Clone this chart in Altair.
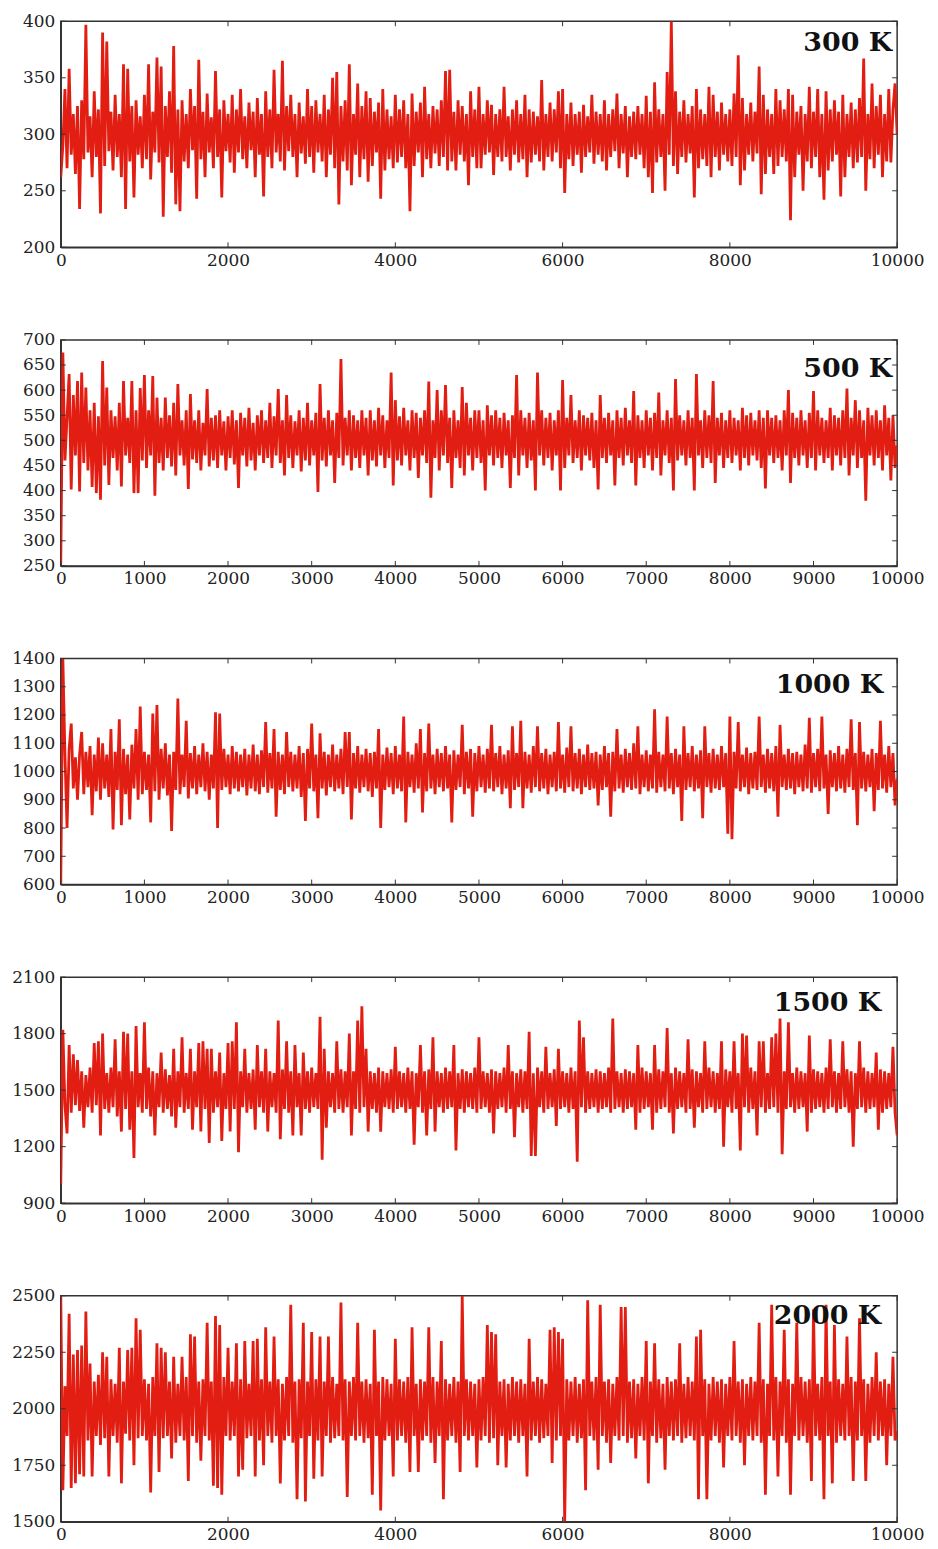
import altair as alt
import pandas as pd

STEP = 25  # sampling interval of the traces (simulation steps)

# temperature traces (401 points each, every 25 steps)
t300 = [
    262, 290, 340, 270, 358, 282, 318, 265, 325, 234, 330, 278, 397, 284, 316, 262, 338, 280, 322, 230,
    390, 272, 382, 285, 320, 268, 335, 280, 318, 262, 362, 234, 358, 276, 325, 244, 330, 282, 316, 270,
    335, 278, 362, 260, 320, 284, 368, 275, 360, 227, 325, 280, 338, 266, 378, 238, 322, 232, 330, 276,
    318, 270, 340, 286, 325, 243, 366, 278, 320, 262, 336, 284, 315, 270, 356, 280, 322, 244, 330, 285,
    318, 275, 335, 266, 322, 284, 340, 278, 316, 270, 328, 286, 320, 262, 332, 282, 318, 245, 338, 280,
    322, 270, 357, 284, 318, 276, 365, 268, 325, 285, 335, 280, 318, 262, 328, 283, 316, 274, 340, 280,
    325, 266, 330, 284, 318, 276, 335, 262, 322, 282, 350, 270, 355, 238, 325, 276, 330, 268, 362, 255,
    318, 282, 345, 262, 325, 278, 338, 258, 332, 272, 320, 284, 328, 243, 340, 268, 322, 278, 316, 270,
    335, 275, 322, 280, 330, 270, 318, 232, 336, 272, 320, 284, 328, 262, 342, 278, 318, 270, 325, 283,
    322, 272, 330, 280, 356, 268, 357, 276, 320, 268, 330, 282, 325, 276, 318, 255, 338, 280, 322, 270,
    342, 270, 318, 282, 330, 284, 326, 264, 318, 280, 322, 276, 342, 280, 316, 268, 322, 282, 330, 275,
    318, 278, 335, 262, 322, 275, 320, 282, 316, 276, 348, 268, 318, 280, 328, 276, 322, 284, 338, 270,
    340, 248, 318, 278, 328, 272, 318, 282, 320, 266, 326, 280, 316, 284, 335, 274, 320, 282, 318, 276,
    330, 268, 318, 280, 322, 285, 336, 270, 318, 283, 325, 262, 316, 280, 320, 278, 325, 282, 318, 270,
    334, 262, 320, 248, 346, 275, 322, 280, 318, 250, 355, 282, 400, 272, 338, 265, 320, 280, 330, 275,
    318, 283, 325, 244, 340, 270, 322, 278, 318, 272, 342, 262, 335, 280, 320, 268, 328, 282, 318, 276,
    322, 272, 336, 280, 370, 255, 332, 268, 318, 282, 328, 276, 320, 283, 360, 247, 335, 265, 322, 280,
    318, 265, 340, 272, 330, 280, 322, 276, 340, 224, 335, 262, 320, 282, 325, 250, 318, 276, 342, 270,
    320, 280, 340, 262, 318, 242, 338, 268, 322, 276, 330, 282, 320, 245, 335, 262, 318, 280, 328, 270,
    322, 275, 332, 280, 367, 250, 318, 278, 345, 270, 325, 282, 335, 262, 318, 276, 340, 275, 322, 345,
    300,
]
t500 = [
    255, 675, 460, 545, 632, 402, 590, 470, 618, 398, 635, 455, 605, 440, 560, 407, 575, 395, 548, 382,
    658, 450, 605, 411, 560, 465, 548, 440, 575, 408, 618, 470, 545, 455, 618, 395, 560, 395, 604, 460,
    630, 445, 560, 470, 628, 390, 585, 455, 545, 440, 585, 465, 550, 448, 575, 430, 612, 470, 540, 450,
    560, 403, 592, 462, 540, 455, 560, 440, 535, 470, 602, 448, 545, 460, 550, 445, 560, 470, 538, 440,
    548, 465, 560, 452, 540, 405, 555, 470, 545, 448, 565, 460, 535, 440, 550, 470, 560, 455, 540, 465,
    575, 445, 548, 470, 602, 455, 540, 430, 590, 465, 550, 445, 538, 470, 560, 438, 545, 460, 575, 450,
    540, 470, 555, 397, 612, 460, 545, 448, 560, 470, 540, 415, 555, 465, 662, 450, 545, 470, 560, 440,
    550, 465, 540, 445, 560, 470, 545, 430, 560, 460, 540, 448, 565, 470, 550, 445, 540, 465, 635, 410,
    580, 460, 548, 450, 565, 470, 540, 440, 560, 465, 555, 425, 545, 470, 560, 455, 617, 386, 540, 465,
    600, 440, 560, 470, 610, 455, 545, 405, 560, 465, 540, 445, 606, 430, 575, 470, 545, 440, 560, 465,
    560, 455, 540, 400, 570, 470, 550, 450, 560, 465, 545, 445, 555, 470, 540, 405, 550, 465, 630, 430,
    560, 470, 545, 445, 555, 460, 540, 400, 635, 470, 560, 450, 545, 465, 555, 440, 540, 470, 560, 400,
    620, 445, 545, 470, 590, 455, 540, 465, 560, 440, 550, 470, 545, 460, 555, 445, 540, 402, 590, 465,
    545, 455, 555, 470, 540, 410, 560, 465, 545, 450, 565, 470, 540, 455, 598, 410, 550, 465, 540, 445,
    560, 470, 545, 440, 555, 465, 595, 430, 540, 470, 560, 455, 545, 400, 622, 460, 550, 470, 540, 450,
    560, 465, 545, 400, 632, 470, 540, 445, 560, 465, 550, 455, 618, 415, 545, 470, 555, 445, 540, 465,
    560, 455, 545, 470, 540, 440, 565, 465, 550, 450, 555, 470, 540, 460, 560, 445, 545, 404, 560, 470,
    545, 455, 550, 465, 540, 440, 560, 470, 600, 415, 555, 465, 545, 450, 560, 470, 540, 445, 555, 465,
    598, 440, 560, 470, 545, 455, 540, 465, 565, 440, 550, 470, 545, 450, 560, 465, 603, 430, 545, 470,
    580, 445, 560, 465, 540, 380, 565, 470, 550, 450, 560, 465, 540, 440, 570, 470, 545, 420, 550, 445,
    490,
]
t1000 = [
    600, 1400, 1060, 800, 1080, 1170, 940, 1050, 900, 1060, 1140, 920, 1070, 945, 1090, 845, 1060, 930, 1120, 900,
    1100, 940, 1060, 910, 1150, 795, 1070, 935, 1185, 810, 1080, 920, 1060, 830, 1095, 940, 1150, 900, 1230, 920,
    1070, 935, 1060, 820, 1205, 930, 1235, 900, 1080, 940, 1100, 915, 1060, 790, 1070, 935, 1258, 920, 1060, 945,
    1180, 905, 1065, 940, 1090, 920, 1060, 945, 1100, 930, 1070, 900, 1060, 940, 1210, 800, 1205, 935, 1080, 945,
    1060, 920, 1090, 940, 1070, 930, 1060, 945, 1080, 915, 1060, 940, 1095, 930, 1060, 920, 1075, 945, 1175, 925,
    1065, 940, 1150, 840, 1070, 935, 1060, 920, 1140, 945, 1070, 930, 1060, 940, 1090, 910, 1065, 825, 1080, 940,
    1170, 930, 1060, 835, 1135, 940, 1070, 915, 1060, 945, 1095, 930, 1060, 940, 1080, 920, 1140, 945, 1140, 830,
    1065, 940, 1090, 925, 1060, 945, 1080, 930, 1065, 910, 1070, 940, 1150, 800, 1060, 935, 1085, 945, 1065, 920,
    1090, 940, 1060, 930, 1195, 820, 1070, 945, 1060, 925, 1100, 940, 1150, 855, 1065, 930, 1170, 940, 1060, 920,
    1080, 945, 1065, 930, 1090, 940, 1060, 820, 1075, 935, 1060, 945, 1165, 920, 1070, 940, 1080, 840, 1065, 930,
    1090, 945, 1060, 925, 1080, 940, 1165, 930, 1065, 945, 1090, 920, 1060, 940, 1075, 870, 1160, 935, 1065, 945,
    1180, 870, 1070, 940, 1060, 925, 1090, 945, 1160, 930, 1065, 940, 1080, 920, 1060, 945, 1070, 930, 1175, 940,
    1060, 925, 1085, 945, 1160, 930, 1065, 940, 1080, 920, 1060, 945, 1095, 935, 1065, 940, 1070, 880, 1060, 935,
    1090, 945, 1065, 840, 1070, 930, 1150, 940, 1060, 925, 1080, 945, 1065, 935, 1100, 940, 1160, 920, 1060, 945,
    1075, 930, 1060, 940, 1220, 925, 1070, 945, 1060, 930, 1195, 940, 1065, 920, 1080, 945, 1060, 825, 1160, 935,
    1065, 945, 1090, 930, 1060, 940, 1075, 835, 1160, 945, 1065, 925, 1080, 940, 1060, 935, 1090, 945, 1065, 780,
    1195, 760, 1070, 940, 1175, 930, 1060, 945, 1085, 920, 1065, 940, 1070, 935, 1195, 945, 1060, 925, 1080, 940,
    1065, 930, 1090, 840, 1165, 945, 1060, 935, 1080, 940, 1065, 920, 1070, 945, 1060, 930, 1095, 940, 1190, 925,
    1065, 945, 1080, 930, 1195, 940, 1060, 850, 1075, 945, 1065, 930, 1090, 940, 1060, 925, 1080, 945, 1185, 935,
    1065, 810, 1175, 940, 1070, 930, 1060, 945, 1080, 860, 1065, 935, 1180, 940, 1060, 925, 1090, 945, 1065, 880,
    975,
]
t1500 = [
    1000, 1820, 1420, 1270, 1740, 1380, 1690, 1420, 1660, 1390, 1600, 1300, 1580, 1410, 1620, 1380, 1750, 1420, 1760, 1260,
    1800, 1400, 1590, 1380, 1620, 1410, 1770, 1360, 1600, 1280, 1810, 1400, 1800, 1290, 1600, 1140, 1840, 1410, 1590, 1380,
    1860, 1400, 1620, 1360, 1600, 1260, 1590, 1410, 1700, 1380, 1610, 1400, 1580, 1360, 1720, 1300, 1600, 1410, 1780, 1380,
    1590, 1400, 1720, 1290, 1600, 1410, 1750, 1280, 1760, 1400, 1720, 1220, 1720, 1380, 1600, 1410, 1700, 1230, 1590, 1400,
    1750, 1280, 1760, 1400, 1860, 1170, 1600, 1410, 1720, 1380, 1590, 1400, 1610, 1290, 1740, 1410, 1600, 1380, 1720, 1280,
    1600, 1410, 1590, 1380, 1870, 1240, 1610, 1400, 1760, 1380, 1600, 1260, 1740, 1410, 1590, 1260, 1700, 1400, 1600, 1380,
    1620, 1410, 1590, 1400, 1890, 1130, 1720, 1300, 1600, 1410, 1590, 1380, 1760, 1400, 1610, 1380, 1600, 1410, 1800, 1260,
    1600, 1400, 1870, 1380, 1945, 1410, 1720, 1280, 1600, 1400, 1590, 1380, 1620, 1280, 1600, 1410, 1590, 1400, 1610, 1380,
    1730, 1400, 1600, 1410, 1590, 1380, 1620, 1400, 1600, 1210, 1590, 1410, 1740, 1380, 1600, 1260, 1610, 1400, 1780, 1280,
    1600, 1410, 1590, 1380, 1620, 1400, 1600, 1410, 1740, 1180, 1590, 1400, 1610, 1380, 1600, 1410, 1590, 1400, 1620, 1380,
    1780, 1400, 1600, 1410, 1590, 1380, 1610, 1270, 1600, 1400, 1590, 1410, 1620, 1380, 1740, 1400, 1600, 1250, 1590, 1410,
    1610, 1380, 1600, 1400, 1810, 1150, 1590, 1150, 1620, 1410, 1600, 1380, 1730, 1400, 1590, 1410, 1610, 1310, 1720, 1400,
    1600, 1410, 1590, 1380, 1620, 1400, 1600, 1120, 1870, 1410, 1780, 1380, 1600, 1400, 1590, 1410, 1610, 1380, 1600, 1400,
    1590, 1410, 1620, 1380, 1880, 1400, 1600, 1410, 1590, 1380, 1610, 1400, 1600, 1410, 1590, 1290, 1740, 1380, 1620, 1400,
    1600, 1410, 1590, 1290, 1740, 1380, 1610, 1400, 1600, 1410, 1830, 1380, 1590, 1270, 1620, 1400, 1600, 1410, 1590, 1380,
    1770, 1400, 1610, 1300, 1600, 1410, 1590, 1380, 1760, 1400, 1620, 1410, 1600, 1380, 1590, 1400, 1760, 1200, 1610, 1410,
    1600, 1380, 1760, 1400, 1590, 1180, 1800, 1410, 1790, 1380, 1620, 1400, 1600, 1260, 1760, 1410, 1760, 1380, 1590, 1400,
    1780, 1410, 1800, 1380, 1880, 1160, 1600, 1400, 1860, 1410, 1590, 1380, 1620, 1400, 1600, 1410, 1590, 1280, 1790, 1380,
    1610, 1400, 1600, 1410, 1590, 1380, 1620, 1400, 1770, 1410, 1600, 1380, 1590, 1400, 1760, 1410, 1610, 1380, 1600, 1200,
    1590, 1400, 1760, 1410, 1620, 1380, 1600, 1400, 1590, 1410, 1700, 1290, 1610, 1380, 1600, 1400, 1590, 1410, 1730, 1380,
    1260,
]
t2000 = [
    2500, 1640, 2100, 1880, 2420, 1650, 2240, 1670, 2260, 1710, 2280, 1700, 2430, 1860, 2200, 1700, 2120, 1880, 2150, 1840,
    2250, 1870, 2230, 1700, 2130, 1880, 2110, 1850, 2270, 1670, 2120, 1890, 2260, 1860, 2270, 1750, 2400, 1870, 2350, 1880,
    2130, 1860, 2110, 1630, 2140, 1880, 2290, 1720, 2270, 1870, 2250, 1880, 2120, 1780, 2230, 1850, 2110, 1880, 2230, 1860,
    2140, 1680, 2330, 1880, 2320, 1850, 2120, 1770, 2130, 1880, 2380, 1860, 2120, 1660, 2410, 1650, 2370, 1620, 2140, 1880,
    2270, 1860, 2120, 1880, 2290, 1700, 2130, 1730, 2300, 1870, 2110, 1880, 2300, 1700, 2310, 1860, 2130, 1750, 2360, 1880,
    2120, 1850, 2320, 1880, 2130, 1670, 2110, 1860, 2140, 1880, 2460, 1850, 2120, 1600, 2130, 1870, 2380, 1590, 2120, 1880,
    2340, 1690, 2130, 1860, 2320, 1700, 2120, 1880, 2320, 1850, 2140, 1870, 2110, 1880, 2470, 1860, 2130, 1610, 2120, 1880,
    2140, 1860, 2380, 1880, 2120, 1850, 2130, 1870, 2110, 1620, 2350, 1880, 2120, 1550, 2140, 1860, 2130, 1880, 2110, 1700,
    2310, 1860, 2130, 1880, 2120, 1850, 2140, 1720, 2360, 1880, 2110, 1720, 2130, 1860, 2120, 1880, 2360, 1850, 2140, 1760,
    2120, 1880, 2300, 1600, 2130, 1860, 2110, 1880, 2140, 1850, 2120, 1720, 2500, 1880, 2130, 1860, 2120, 1880, 2110, 1740,
    2130, 1860, 2140, 1880, 2370, 1850, 2340, 1870, 2330, 1750, 2120, 1880, 2130, 1740, 2110, 1860, 2140, 1880, 2120, 1850,
    2130, 1880, 2110, 1700, 2310, 1860, 2120, 1880, 2140, 1850, 2130, 1870, 2110, 1880, 2350, 1760, 2360, 1860, 2340, 1880,
    2310, 1500, 2130, 1860, 2120, 1880, 2140, 1850, 2110, 1870, 2130, 1640, 2480, 1880, 2120, 1860, 2140, 1730, 2460, 1880,
    2120, 1850, 2130, 1760, 2110, 1880, 2140, 1860, 2450, 1880, 2450, 1850, 2120, 1870, 2130, 1780, 2110, 1880, 2140, 1860,
    2300, 1670, 2120, 1880, 2290, 1850, 2130, 1870, 2110, 1730, 2140, 1880, 2120, 1860, 2130, 1880, 2290, 1850, 2110, 1870,
    2140, 1880, 2120, 1860, 2320, 1600, 2350, 1880, 2130, 1600, 2110, 1860, 2140, 1880, 2120, 1850, 2130, 1740, 2110, 1880,
    2140, 1860, 2300, 1880, 2120, 1850, 2130, 1750, 2110, 1880, 2140, 1860, 2120, 1880, 2380, 1850, 2130, 1620, 2110, 1880,
    2460, 1860, 2140, 1700, 2120, 1880, 2350, 1850, 2130, 1620, 2110, 1880, 2380, 1860, 2140, 1880, 2120, 1850, 2130, 1680,
    2440, 1880, 2110, 1860, 2140, 1600, 2460, 1880, 2120, 1670, 2370, 1850, 2130, 1880, 2110, 1860, 2320, 1880, 2140, 1680,
    2120, 1860, 2400, 1880, 2130, 1680, 2110, 1850, 2140, 1880, 2250, 1860, 2120, 1880, 2130, 1750, 2110, 1880, 2230, 1860,
    1900,
]

labels = ["300 K", "500 K", "1000 K", "1500 K", "2000 K"]
series = [t300, t500, t1000, t1500, t2000]
y_domains = [[200, 400], [250, 700], [600, 1400], [900, 2100], [1500, 2500]]
y_ticks = [
    [200, 250, 300, 350, 400],
    [250, 300, 350, 400, 450, 500, 550, 600, 650, 700],
    [600, 700, 800, 900, 1000, 1100, 1200, 1300, 1400],
    [900, 1200, 1500, 1800, 2100],
    [1500, 1750, 2000, 2250, 2500],
]
x_ticks_2k = [0, 2000, 4000, 6000, 8000, 10000]
x_ticks_1k = [0, 1000, 2000, 3000, 4000, 5000, 6000, 7000, 8000, 9000, 10000]
x_ticks = [x_ticks_2k, x_ticks_1k, x_ticks_1k, x_ticks_1k, x_ticks_2k]

# label placement (offset from right edge, baseline from top)
label_dx = [5, 5, 14, 16, 16]
label_dy = [30, 37, 35, 34, 28]

W, H = 840, 227
RED = "#E21D12"
FRAME = "#333333"
FONT = "DejaVu Serif"
TICK = 5

panels = []
for i in range(5):
    vals = series[i]
    df = pd.DataFrame({"step": [STEP * k for k in range(len(vals))], "T": vals})
    xs = alt.Scale(domain=[0, 10000], nice=False, zero=False)
    ys = alt.Scale(domain=y_domains[i], nice=False, zero=False)
    x_axis = alt.Axis(values=x_ticks[i], format="d", labelFlush=False, labelOverlap=False)
    y_axis = alt.Axis(values=y_ticks[i], format="d", labelOverlap=False)

    line = alt.Chart(df).mark_line(color=RED, strokeWidth=2.8, clip=True).encode(
        x=alt.X("step:Q", scale=xs, title=None, axis=x_axis),
        y=alt.Y("T:Q", scale=ys, title=None, axis=y_axis),
    )

    xt = pd.DataFrame({"tick": x_ticks[i]})
    yt = pd.DataFrame({"tick": y_ticks[i]})
    tick_style = dict(color=FRAME, strokeWidth=1)
    bottom = alt.Chart(xt).mark_rule(**tick_style).encode(
        x=alt.X("tick:Q", scale=xs, title=None, axis=x_axis),
        y=alt.value(H), y2=alt.value(H - TICK))
    top = alt.Chart(xt).mark_rule(**tick_style).encode(
        x=alt.X("tick:Q", scale=xs, title=None, axis=x_axis),
        y=alt.value(0), y2=alt.value(TICK))
    left = alt.Chart(yt).mark_rule(**tick_style).encode(
        y=alt.Y("tick:Q", scale=ys, title=None, axis=y_axis),
        x=alt.value(0), x2=alt.value(TICK))
    right = alt.Chart(yt).mark_rule(**tick_style).encode(
        y=alt.Y("tick:Q", scale=ys, title=None, axis=y_axis),
        x=alt.value(W), x2=alt.value(W - TICK))

    text = alt.Chart(pd.DataFrame({"label": [labels[i]]})).mark_text(
        font=FONT, fontSize=27, fontWeight="bold", color="#111111",
        align="right", baseline="alphabetic",
    ).encode(text="label:N", x=alt.value(W - label_dx[i]), y=alt.value(label_dy[i]))

    panels.append(
        alt.layer(line, bottom, top, left, right, text).properties(width=W, height=H)
    )

chart = alt.vconcat(*panels, spacing=61).properties(
    padding={"left": 2, "top": 0, "right": 5, "bottom": 0}
).configure_view(
    stroke=FRAME, strokeWidth=1.5
).configure_axis(
    grid=False, ticks=False, labelFont=FONT, labelFontSize=17, labelColor="#222222",
    labelPadding=6, domainColor=FRAME, domainWidth=1.5, labelOverlap=False,
    labelFlush=False,
).configure_axisX(labelPadding=5)

chart.save("out.html", embed_options={"renderer": "svg", "actions": False})
